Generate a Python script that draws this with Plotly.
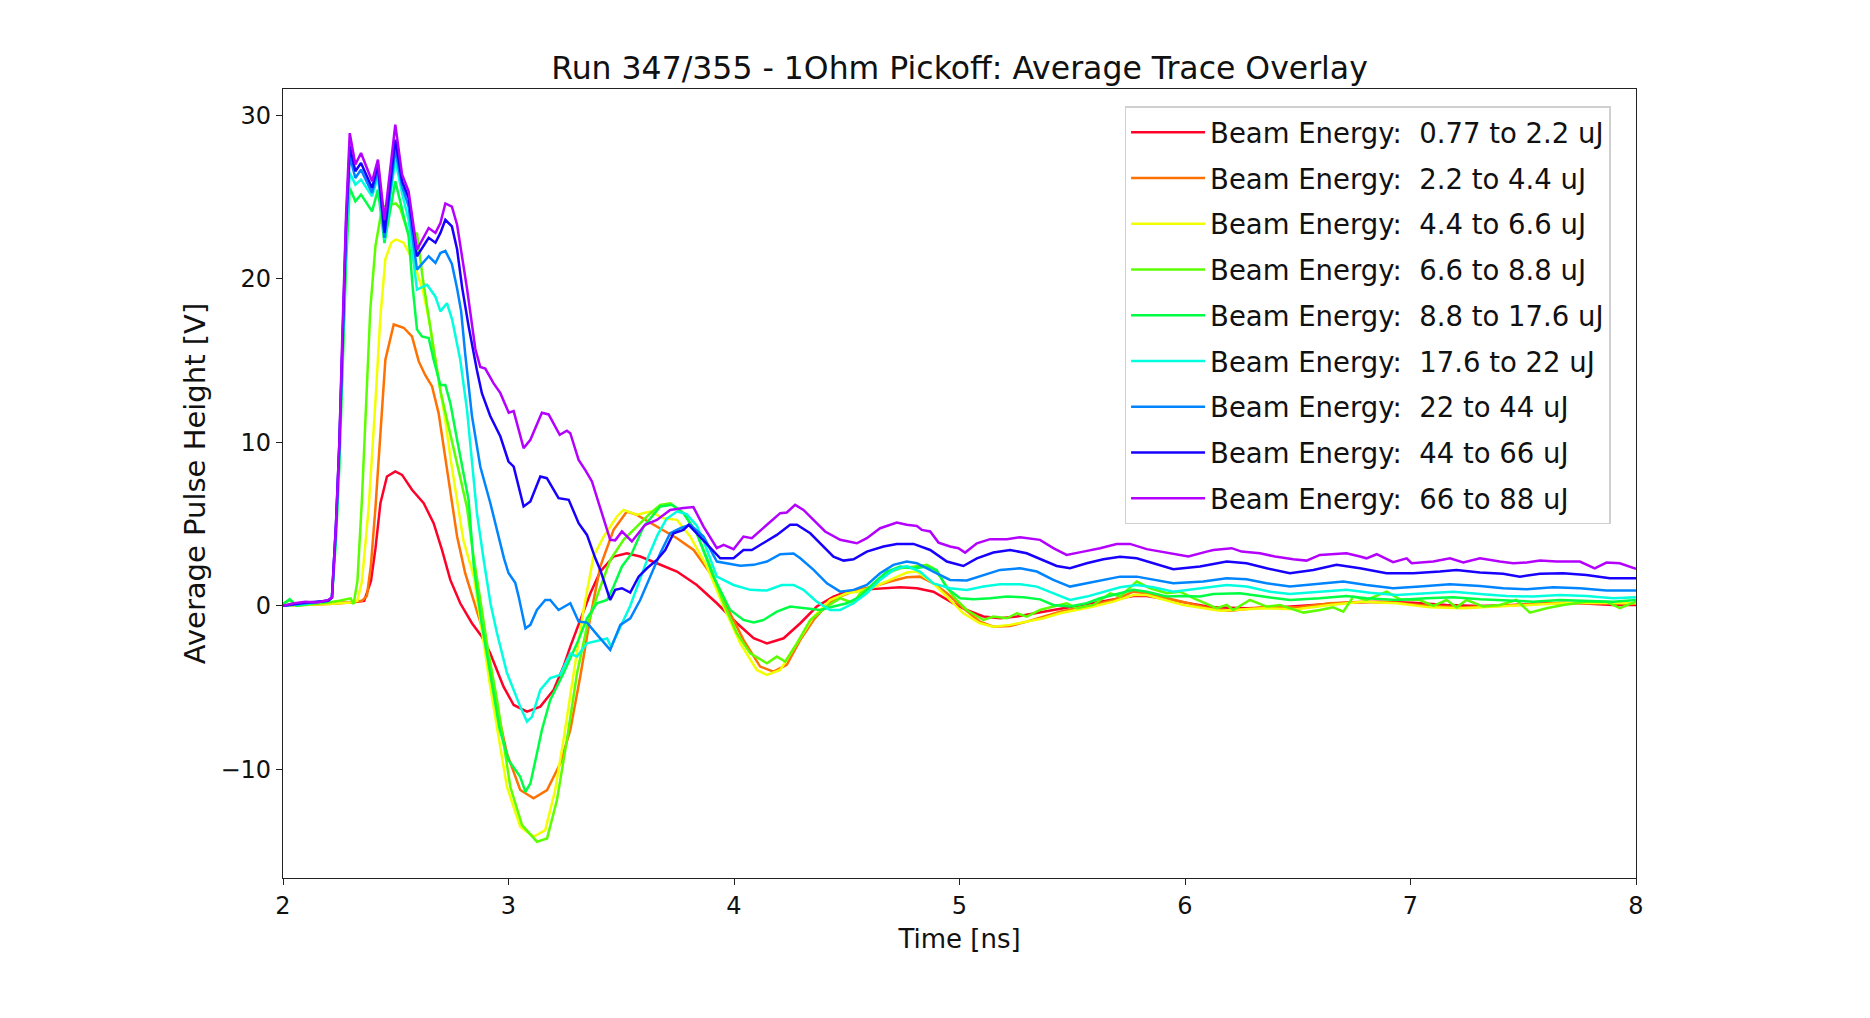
import plotly.graph_objects as go

# ---------------- data (time [ns], average pulse height [V]) ----------------
labels = ["0.77 to 2.2 uJ", "2.2 to 4.4 uJ", "4.4 to 6.6 uJ", "6.6 to 8.8 uJ",
          "8.8 to 17.6 uJ", "17.6 to 22 uJ", "22 to 44 uJ", "44 to 66 uJ", "66 to 88 uJ"]

red = [(2.0,0.0),(2.1,0.1),(2.2,0.15),(2.3,0.2),(2.36,0.3),(2.39,1.5),(2.41,3.5),(2.432,6.27),(2.461,7.9),
       (2.498,8.21),(2.528,8.0),(2.572,7.09),(2.624,6.27),(2.668,5.05),(2.705,3.41),(2.742,1.58),(2.786,0.15),
       (2.838,-1.07),(2.882,-1.89),(2.919,-2.91),(2.978,-4.95),(3.023,-6.07),(3.082,-6.48),(3.141,-6.17),
       (3.2,-5.15),(3.244,-3.72),(3.274,-2.5),(3.318,-0.87),(3.363,0.76),(3.407,2.09),(3.466,3.01),(3.525,3.21),
       (3.584,3.01),(3.658,2.6),(3.747,2.09),(3.835,1.27),(3.924,0.15),(4.013,-1.07),(4.087,-1.99),(4.146,-2.3),
       (4.22,-1.99),(4.294,-1.07),(4.367,-0.05),(4.441,0.56),(4.5,0.86),(4.559,0.97),(4.648,1.07),(4.737,1.13),
       (4.811,1.07),(4.884,0.86),(4.973,0.15),(5.032,-0.26),(5.106,-0.66),(5.18,-0.77),(5.254,-0.66),(5.328,-0.46),
       (5.416,-0.26),(5.505,-0.05),(5.594,0.15),(5.682,0.39),(5.771,0.6),(5.83,0.6),(5.919,0.39),(6.007,0.19),
       (6.126,-0.1),(6.273,-0.15),(6.421,-0.1),(6.569,0.05),(6.716,0.19),(6.864,0.25),(7.012,0.19),(7.16,0.05),
       (7.308,-0.01),(7.455,0.05),(7.603,0.15),(7.751,0.15),(7.899,0.05),(8.0,0.05)]

orange = [(2.0,0.0),(2.1,0.05),(2.2,0.1),(2.3,0.2),(2.35,0.3),(2.372,0.6),(2.39,2.5),(2.41,6.0),(2.432,10.35),
          (2.454,15.04),(2.491,17.2),(2.535,17.0),(2.572,16.47),(2.602,14.94),(2.631,14.1),(2.661,13.41),(2.69,11.78),
          (2.712,9.74),(2.742,6.88),(2.772,4.23),(2.808,1.99),(2.853,-0.05),(2.89,-1.68),(2.919,-4.34),(2.993,-9.03),
          (3.052,-11.27),(3.111,-11.78),(3.171,-11.27),(3.23,-9.64),(3.274,-7.6),(3.318,-4.34),(3.363,-0.67),
          (3.407,2.4),(3.466,4.64),(3.525,5.76),(3.569,5.56),(3.658,4.84),(3.747,4.13),(3.821,3.41),(3.895,1.99),
          (3.968,-0.05),(4.042,-2.09),(4.116,-3.72),(4.175,-4.03),(4.234,-3.62),(4.294,-2.09),(4.353,-0.87),
          (4.412,0.05),(4.471,0.56),(4.545,0.97),(4.618,1.17),(4.692,1.48),(4.766,1.74),(4.825,1.78),(4.884,1.37),
          (4.944,0.76),(5.017,-0.15),(5.091,-0.97),(5.15,-1.28),(5.224,-1.24),(5.298,-0.97),(5.372,-0.66),
          (5.446,-0.36),(5.52,-0.15),(5.594,0.05),(5.682,0.35),(5.771,0.86),(5.83,0.76),(5.919,0.46),(5.993,0.25),
          (6.126,-0.22),(6.2,-0.3),(6.347,-0.1),(6.495,-0.1),(6.643,0.15),(6.79,0.25),(6.938,0.19),(7.086,-0.01),
          (7.234,-0.1),(7.382,-0.01),(7.529,0.11),(7.677,0.19),(7.825,0.15),(8.0,0.13)]

yellow = [(2.0,0.0),(2.1,0.05),(2.2,0.1),(2.3,0.2),(2.33,0.3),(2.35,1.5),(2.38,6.0),(2.41,12.5),(2.432,17.7),
          (2.454,21.2),(2.48,22.2),(2.5,22.4),(2.535,22.2),(2.58,21.0),(2.62,19.3),(2.65,17.3),(2.68,14.8),
          (2.70,13.0),(2.72,11.3),(2.745,8.8),(2.77,6.5),(2.80,4.0),(2.846,1.78),(2.919,-4.95),(2.993,-11.07),
          (3.052,-13.52),(3.111,-14.13),(3.163,-13.72),(3.207,-11.27),(3.244,-8.21),(3.289,-4.13),(3.333,-0.26),
          (3.377,3.01),(3.422,4.23),(3.481,5.46),(3.51,5.86),(3.569,5.56),(3.629,5.76),(3.688,5.35),(3.747,5.25),
          (3.806,4.23),(3.88,2.4),(3.954,-0.05),(4.028,-2.3),(4.101,-3.93),(4.146,-4.23),(4.205,-3.93),(4.279,-2.3),
          (4.353,-0.67),(4.426,0.35),(4.5,0.76),(4.545,0.86),(4.618,1.13),(4.692,1.58),(4.766,2.03),(4.811,2.09),
          (4.884,1.37),(4.944,0.56),(5.017,-0.46),(5.091,-1.07),(5.15,-1.28),(5.224,-1.17),(5.298,-0.97),
          (5.372,-0.77),(5.446,-0.46),(5.52,-0.26),(5.594,-0.05),(5.682,0.25),(5.771,0.66),(5.83,0.66),(5.919,0.35),
          (5.993,0.05),(6.155,-0.3),(6.347,-0.16),(6.495,-0.22),(6.643,0.05),(6.79,0.25),(6.938,0.15),(7.086,-0.1),
          (7.234,-0.16),(7.382,-0.05),(7.529,0.05),(7.677,0.15),(7.825,0.19),(8.0,0.15)]

chartreuse = [(2.0,0.1),(2.03,0.35),(2.06,0.0),(2.1,0.05),(2.15,0.15),(2.2,0.2),(2.25,0.3),(2.3,0.45),(2.313,0.1),
              (2.33,1.5),(2.35,6.5),(2.37,12.5),(2.387,18.1),(2.41,22.0),(2.44,24.4),(2.47,24.5),(2.50,24.6),
              (2.52,24.3),(2.55,23.0),(2.575,22.5),(2.594,22.8),(2.62,20.0),(2.64,18.1),(2.67,15.5),(2.70,13.0),
              (2.74,10.5),(2.78,8.2),(2.816,6.0),(2.845,3.0),(2.875,0.35),(2.91,-2.8),(2.949,-5.76),(2.98,-8.5),
              (3.008,-11.07),(3.06,-13.42),(3.126,-14.43),(3.171,-14.23),(3.215,-11.88),(3.259,-8.21),(3.304,-4.13),
              (3.348,-1.28),(3.392,0.56),(3.451,2.8),(3.51,4.03),(3.569,4.84),(3.629,5.66),(3.673,6.17),(3.717,6.27),
              (3.776,5.66),(3.835,4.43),(3.895,2.4),(3.954,0.15),(4.013,-1.69),(4.072,-2.91),(4.146,-3.52),
              (4.19,-3.11),(4.227,-3.42),(4.279,-2.3),(4.338,-0.87),(4.412,-0.05),(4.471,0.46),(4.53,0.15),
              (4.559,0.76),(4.618,1.27),(4.678,1.99),(4.737,2.29),(4.796,2.39),(4.855,2.5),(4.884,2.29),(4.914,1.78),
              (4.973,0.56),(5.032,-0.26),(5.106,-0.87),(5.15,-0.66),(5.21,-0.77),(5.254,-0.46),(5.298,-0.66),
              (5.357,-0.26),(5.416,-0.05),(5.475,0.15),(5.52,-0.15),(5.594,0.05),(5.668,0.76),(5.712,0.56),
              (5.786,1.48),(5.845,1.07),(5.919,0.76),(5.978,0.86),(6.037,0.46),(6.14,-0.15),(6.185,0.05),
              (6.214,-0.26),(6.288,0.35),(6.362,-0.05),(6.421,0.05),(6.525,-0.42),(6.598,-0.26),(6.657,-0.1),
              (6.702,-0.36),(6.746,0.56),(6.805,0.35),(6.894,0.86),(6.953,0.39),(7.042,0.35),(7.101,-0.01),
              (7.16,0.35),(7.204,-0.1),(7.249,0.35),(7.323,-0.05),(7.396,0.05),(7.47,0.35),(7.529,-0.42),
              (7.603,-0.15),(7.677,0.05),(7.78,0.25),(7.869,0.25),(7.928,-0.15),(8.0,0.25)]

green = [(2.0,0.1),(2.03,0.4),(2.06,0.0),(2.1,0.1),(2.15,0.2),(2.2,0.3),(2.217,0.5),(2.235,4.0),(2.25,8.5),
         (2.262,13.5),(2.28,21.0),(2.296,25.55),(2.321,24.73),(2.346,25.14),(2.395,24.12),(2.421,25.45),
         (2.45,22.18),(2.498,25.96),(2.528,24.22),(2.557,22.59),(2.575,19.5),(2.594,16.9),(2.616,16.47),
         (2.646,16.37),(2.668,15.04),(2.698,13.5),(2.72,13.5),(2.742,12.39),(2.772,10.15),(2.801,8.1),
         (2.823,6.48),(2.846,2.4),(2.88,-1.0),(2.919,-4.13),(2.96,-7.5),(3.0,-9.44),(3.052,-10.46),(3.075,-11.38),
         (3.097,-10.87),(3.126,-9.03),(3.148,-7.6),(3.185,-5.76),(3.244,-4.13),(3.304,-2.3),(3.348,-0.77),
         (3.392,0.15),(3.437,0.35),(3.466,1.17),(3.503,2.4),(3.547,3.21),(3.599,4.84),(3.673,6.07),(3.725,6.17),
         (3.776,5.66),(3.835,4.43),(3.909,1.78),(3.983,-0.26),(4.042,-0.87),(4.087,-1.03),(4.131,-0.87),
         (4.19,-0.36),(4.249,-0.05),(4.323,-0.15),(4.382,-0.26),(4.441,-0.05),(4.5,0.15),(4.559,0.56),
         (4.618,1.37),(4.678,2.09),(4.737,2.39),(4.796,2.29),(4.855,2.39),(4.899,2.19),(4.944,1.07),(5.003,0.46),
         (5.062,0.39),(5.136,0.46),(5.21,0.56),(5.284,0.52),(5.357,0.39),(5.416,0.05),(5.49,-0.05),(5.564,0.15),
         (5.623,0.46),(5.712,0.76),(5.771,0.97),(5.83,0.86),(5.919,0.56),(5.978,0.6),(6.066,0.56),(6.126,0.72),
         (6.244,0.76),(6.347,0.56),(6.465,0.35),(6.598,0.46),(6.716,0.6),(6.805,0.46),(6.938,0.35),(7.071,0.46),
         (7.19,0.52),(7.308,0.39),(7.426,0.31),(7.544,0.25),(7.662,0.35),(7.78,0.31),(7.899,0.25),(8.0,0.35)]

cyan = [(2.0,0.0),(2.1,0.1),(2.2,0.3),(2.217,0.5),(2.235,4.5),(2.25,9.5),(2.262,15.0),(2.28,22.5),(2.296,26.47),
        (2.321,25.75),(2.346,26.06),(2.395,25.04),(2.421,26.26),(2.45,22.39),(2.498,27.28),(2.528,25.24),
        (2.557,23.61),(2.594,19.33),(2.639,19.63),(2.676,18.9),(2.698,18.0),(2.727,18.5),(2.75,17.5),(2.786,15.04),
        (2.816,11.98),(2.838,8.9),(2.86,5.66),(2.89,2.8),(2.92,0.15),(2.949,-1.68),(2.993,-4.1),(3.052,-6.17),
        (3.082,-7.09),(3.104,-6.8),(3.141,-5.15),(3.185,-4.43),(3.229,-4.23),(3.274,-2.91),(3.304,-3.11),
        (3.348,-2.3),(3.437,-2.0),(3.455,-2.5),(3.49,-1.5),(3.54,0.0),(3.58,1.5),(3.62,3.0),(3.66,4.3),(3.70,5.3),
        (3.747,5.76),(3.79,5.6),(3.835,4.9),(3.87,3.8),(3.924,1.78),(3.998,1.27),(4.072,0.97),(4.146,0.93),
        (4.212,1.27),(4.264,1.27),(4.308,0.97),(4.367,0.25),(4.426,-0.26),(4.471,-0.26),(4.53,0.15),(4.589,0.76),
        (4.648,1.58),(4.707,2.19),(4.766,2.43),(4.825,2.09),(4.884,1.37),(4.958,1.07),(5.032,0.97),(5.106,1.17),
        (5.18,1.31),(5.269,1.31),(5.343,1.17),(5.416,0.76),(5.49,0.35),(5.564,0.56),(5.638,0.86),(5.712,1.13),
        (5.786,1.27),(5.86,1.13),(5.948,0.86),(6.066,1.07),(6.185,1.27),(6.273,1.17),(6.377,0.86),(6.465,0.72),
        (6.598,0.86),(6.716,0.97),(6.82,0.8),(6.938,0.66),(7.071,0.76),(7.19,0.86),(7.308,0.72),(7.426,0.6),
        (7.544,0.56),(7.662,0.66),(7.78,0.6),(7.899,0.46),(8.0,0.52)]

lightblue = [(2.0,0.0),(2.1,0.15),(2.2,0.3),(2.217,0.5),(2.235,4.8),(2.25,9.8),(2.262,15.5),(2.28,23.0),
             (2.296,27.5),(2.321,26.16),(2.346,26.67),(2.395,25.24),(2.421,26.67),(2.45,22.5),(2.498,27.9),
             (2.528,25.65),(2.557,24.43),(2.594,20.55),(2.646,21.37),(2.676,20.96),(2.698,21.57),(2.72,21.7),
             (2.749,20.9),(2.772,19.4),(2.79,18.0),(2.808,15.4),(2.838,11.6),(2.875,8.5),(2.919,6.3),(2.956,4.23),
             (2.98,2.9),(3.0,2.0),(3.03,1.4),(3.045,0.56),(3.075,-1.38),(3.097,-1.17),(3.126,-0.26),(3.163,0.35),
             (3.185,0.35),(3.222,-0.26),(3.274,0.15),(3.311,-0.97),(3.348,-1.03),(3.4,-1.89),(3.451,-2.7),
             (3.496,-1.17),(3.54,-0.77),(3.584,0.35),(3.629,1.78),(3.673,3.21),(3.717,4.43),(3.762,4.74),
             (3.806,4.95),(3.865,4.23),(3.924,2.7),(3.983,2.55),(4.028,2.45),(4.087,2.5),(4.146,2.7),(4.205,3.15),
             (4.264,3.2),(4.294,2.9),(4.353,2.19),(4.412,1.37),(4.471,0.86),(4.53,0.97),(4.589,1.27),(4.648,1.99),
             (4.707,2.5),(4.766,2.7),(4.811,2.6),(4.884,2.09),(4.958,1.58),(5.032,1.54),(5.106,1.88),(5.18,2.19),
             (5.269,2.29),(5.343,2.09),(5.416,1.58),(5.49,1.17),(5.564,1.37),(5.638,1.58),(5.712,1.78),(5.786,1.78),
             (5.86,1.58),(5.948,1.37),(6.081,1.48),(6.185,1.68),(6.273,1.62),(6.362,1.37),(6.465,1.17),(6.598,1.33),
             (6.702,1.48),(6.805,1.27),(6.923,1.07),(7.042,1.17),(7.175,1.31),(7.308,1.21),(7.411,1.07),
             (7.515,1.01),(7.633,1.13),(7.751,1.07),(7.869,0.93),(8.0,0.93)]

blue = [(2.0,0.0),(2.05,0.1),(2.1,0.2),(2.15,0.25),(2.2,0.3),(2.217,0.5),(2.235,5.0),(2.25,10.0),(2.262,16.0),
        (2.28,23.5),(2.296,28.1),(2.321,26.57),(2.346,27.08),(2.395,25.55),(2.421,26.98),(2.45,22.8),(2.498,28.5),
        (2.528,25.96),(2.557,24.94),(2.594,21.37),(2.646,22.5),(2.676,22.2),(2.698,22.8),(2.72,23.6),(2.749,23.2),
        (2.772,21.8),(2.794,19.5),(2.823,17.1),(2.86,14.4),(2.882,13.0),(2.919,11.6),(2.964,10.35),(3.0,8.82),
        (3.023,8.5),(3.067,6.07),(3.097,6.37),(3.141,7.9),(3.17,7.8),(3.222,6.58),(3.267,6.48),(3.311,5.05),
        (3.348,4.33),(3.385,2.9),(3.407,2.19),(3.451,0.35),(3.473,0.97),(3.503,1.07),(3.54,0.8),(3.577,1.78),
        (3.614,2.29),(3.658,2.8),(3.695,3.41),(3.732,4.43),(3.776,4.64),(3.799,4.95),(3.835,4.43),(3.895,3.52),
        (3.939,2.9),(3.998,2.9),(4.042,3.41),(4.079,3.41),(4.131,3.82),(4.19,4.33),(4.249,4.95),(4.279,4.95),
        (4.338,4.43),(4.397,3.62),(4.441,3.0),(4.486,2.76),(4.53,2.84),(4.589,3.31),(4.663,3.62),(4.722,3.78),
        (4.796,3.78),(4.87,3.41),(4.944,2.7),(5.017,2.43),(5.077,2.9),(5.15,3.25),(5.224,3.41),(5.298,3.21),
        (5.372,2.8),(5.431,2.43),(5.49,2.29),(5.564,2.6),(5.638,2.84),(5.712,3.0),(5.786,2.9),(5.86,2.6),
        (5.948,2.23),(6.066,2.4),(6.185,2.7),(6.273,2.6),(6.362,2.29),(6.465,1.99),(6.569,2.19),(6.672,2.5),
        (6.776,2.29),(6.894,1.99),(7.012,1.99),(7.13,2.09),(7.204,2.19),(7.308,2.03),(7.411,1.95),(7.485,1.78),
        (7.574,1.95),(7.677,1.99),(7.78,1.88),(7.884,1.68),(8.0,1.68)]

purple = [(2.0,0.0),(2.05,0.15),(2.1,0.25),(2.15,0.2),(2.2,0.35),(2.217,0.5),(2.235,5.0),(2.25,10.0),(2.262,16.0),
          (2.28,24.0),(2.296,28.9),(2.321,26.98),(2.346,27.69),(2.395,25.96),(2.421,27.28),(2.45,23.61),
          (2.498,29.42),(2.528,26.37),(2.557,25.35),(2.594,21.77),(2.646,23.1),(2.676,22.8),(2.698,23.4),
          (2.72,24.6),(2.749,24.4),(2.772,23.3),(2.816,19.4),(2.831,17.9),(2.853,15.7),(2.875,14.6),(2.897,14.5),
          (2.934,13.6),(2.964,13.0),(3.001,11.8),(3.023,11.9),(3.067,9.64),(3.097,10.15),(3.148,11.8),(3.178,11.7),
          (3.227,10.45),(3.259,10.7),(3.274,10.55),(3.311,8.92),(3.34,8.31),(3.37,7.6),(3.414,5.66),(3.451,4.03),
          (3.473,4.0),(3.503,4.54),(3.547,3.93),(3.606,4.95),(3.658,5.25),(3.717,5.86),(3.776,5.97),(3.82,6.03),
          (3.865,4.84),(3.924,3.52),(3.954,3.72),(3.998,3.46),(4.042,4.23),(4.079,4.13),(4.146,4.95),(4.205,5.66),
          (4.234,5.7),(4.271,6.17),(4.308,5.86),(4.353,5.25),(4.404,4.54),(4.471,4.03),(4.545,3.82),(4.589,4.13),
          (4.648,4.74),(4.722,5.09),(4.766,4.95),(4.811,4.88),(4.833,4.64),(4.87,4.54),(4.907,3.86),(4.958,3.62),
          (4.995,3.52),(5.025,3.25),(5.077,3.82),(5.136,4.07),(5.21,4.07),(5.269,4.19),(5.357,4.03),(5.416,3.52),
          (5.475,3.11),(5.549,3.31),(5.623,3.52),(5.697,3.78),(5.756,3.78),(5.83,3.46),(5.919,3.25),(6.015,3.01),
          (6.096,3.31),(6.126,3.41),(6.207,3.52),(6.251,3.31),(6.332,3.21),(6.399,3.01),(6.48,2.84),(6.539,2.76),
          (6.598,3.11),(6.716,3.21),(6.776,3.01),(6.805,2.9),(6.85,3.15),(6.923,2.66),(6.983,2.9),(7.005,2.6),
          (7.101,2.7),(7.175,2.9),(7.234,2.64),(7.308,2.9),(7.396,2.7),(7.455,2.6),(7.515,2.64),(7.574,2.76),
          (7.647,2.7),(7.751,2.7),(7.817,2.29),(7.869,2.64),(7.928,2.6),(7.987,2.29),(8.0,2.25)]

series = [red, orange, yellow, chartreuse, green, cyan, lightblue, blue, purple]
colors = ["#ff0029", "#ff7100", "#f2ff00", "#5cff00", "#00ff44",
          "#00ffdf", "#0084ff", "#1800ff", "#b400ff"]

x_ticks = [2, 3, 4, 5, 6, 7, 8]
y_ticks = [-10, 0, 10, 20, 30]

FONT = "DejaVu Sans"

fig = go.Figure()
for lab, col, pts in zip(labels, colors, series):
    fig.add_trace(go.Scatter(
        x=[p[0] for p in pts], y=[p[1] for p in pts], mode="lines",
        name="Beam Energy:\u00a0 " + lab, legendgroup=lab,
        line=dict(color=col, width=2.5),
    ))

axis_common = dict(showline=True, linecolor="#222222", linewidth=1.3, mirror=True,
                   ticks="outside", ticklen=6, tickwidth=1.3, tickcolor="#222222",
                   showgrid=False, zeroline=False,
                   tickfont=dict(family=FONT, size=24, color="#111111"))

fig.update_layout(
    width=1870, height=1018,
    margin=dict(l=283, r=234, t=89, b=140),
    paper_bgcolor="white", plot_bgcolor="white",
    font=dict(family=FONT, color="#111111"),
    title=dict(text="Run 347/355 - 1Ohm Pickoff: Average Trace Overlay",
               x=0.5, xref="paper", xanchor="center",
               y=1 - 68 / 1018, yref="container", yanchor="middle",
               font=dict(family=FONT, size=31.5, color="#111111")),
    xaxis=dict(range=[2, 8], tickvals=x_ticks,
               title=dict(text="Time [ns]", standoff=10, font=dict(family=FONT, size=26)),
               **axis_common),
    yaxis=dict(range=[-16.65, 31.6], tickvals=y_ticks,
               title=dict(text="Average Pulse Height [V]", standoff=6, font=dict(family=FONT, size=29)),
               **axis_common),
    legend=dict(x=0.622, y=0.978, xanchor="left", yanchor="top",
                bgcolor="rgba(255,255,255,0.92)", bordercolor="#d0d0d0", borderwidth=1.5,
                font=dict(family=FONT, size=27.5, color="#111111"),
                tracegroupgap=7, itemwidth=74),
    showlegend=True,
)

fig.write_html("out.html", config={"displayModeBar": False},
               post_script="document.body.style.margin='0';")
